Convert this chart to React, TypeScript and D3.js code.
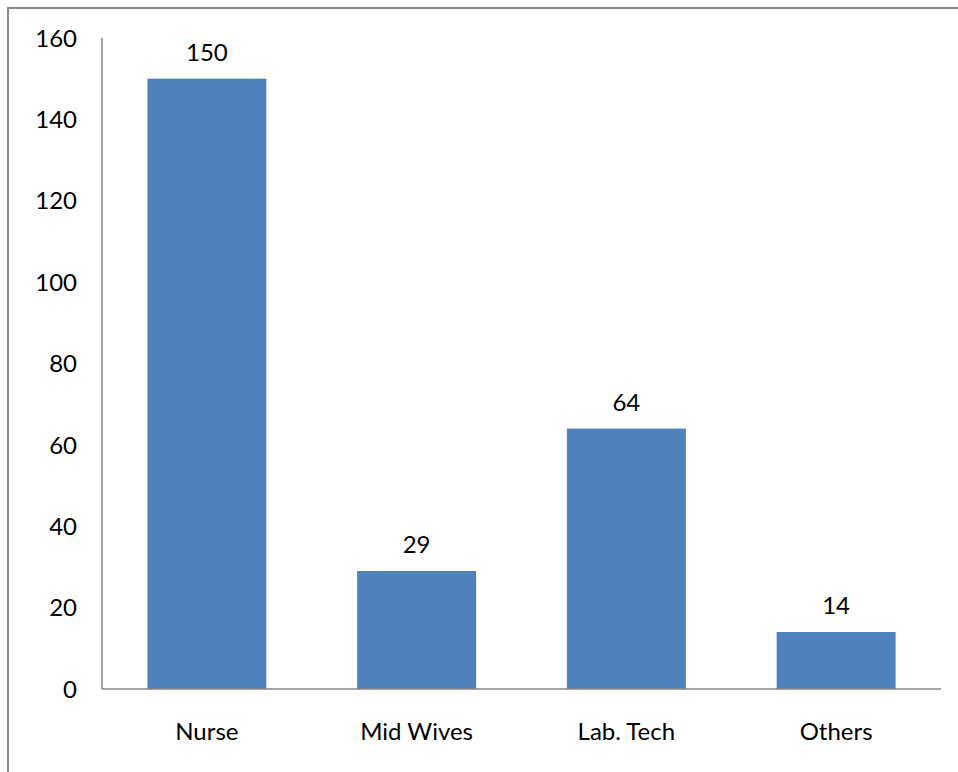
import React from "react";
import * as d3 from "d3";

const categories = ["Nurse", "Mid Wives", "Lab. Tech", "Others"];
const values = [150, 29, 64, 14];
const yTicks = [0, 20, 40, 60, 80, 100, 120, 140, 160];

const W = 958;
const H = 772;
const left = 102;
const right = 941;
const top = 38;
const bottom = 689;
const FONT = "Lato, 'Open Sans', sans-serif";
const FS = 24;

export default function App() {
  const x = d3.scaleBand<string>().domain(categories).range([left, right]).paddingInner(0.433).paddingOuter(0.2165);
  const y = d3.scaleLinear().domain([0, 160]).range([bottom, top]);
  const axisColor = "#868686";
  return (
    <svg width={W} height={H} style={{ position: "absolute", left: 0, top: 0, display: "block" }}>
      <rect x={0} y={0} width={W} height={H} fill="#ffffff" />
      <path d={`M8,${H + 10} L8,8 L${W + 10},8`} fill="none" stroke="#8a8a8a" strokeWidth={2} />
      {values.map((v, i) => (
        <rect key={categories[i]} x={x(categories[i])} y={y(v)} width={x.bandwidth()} height={y(0) - y(v)} fill="#4F81BD" />
      ))}
      <line x1={left} x2={left} y1={top} y2={bottom} stroke={axisColor} strokeWidth={1.5} />
      <line x1={left} x2={right} y1={bottom} y2={bottom} stroke={axisColor} strokeWidth={1.5} />
      {yTicks.map((t) => (
        <text key={t} x={77} y={y(t)} dy="0.36em" textAnchor="end" fontFamily={FONT} fontSize={FS} fill="#000">
          {t}
        </text>
      ))}
      {categories.map((c) => (
        <text key={c} x={(x(c) as number) + x.bandwidth() / 2} y={740} textAnchor="middle" fontFamily={FONT} fontSize={FS} fill="#000">
          {c}
        </text>
      ))}
      {values.map((v, i) => (
        <text key={"l" + i} x={(x(categories[i]) as number) + x.bandwidth() / 2} y={y(v) - 18} textAnchor="middle" fontFamily={FONT} fontSize={FS} fill="#000">
          {v}
        </text>
      ))}
    </svg>
  );
}
